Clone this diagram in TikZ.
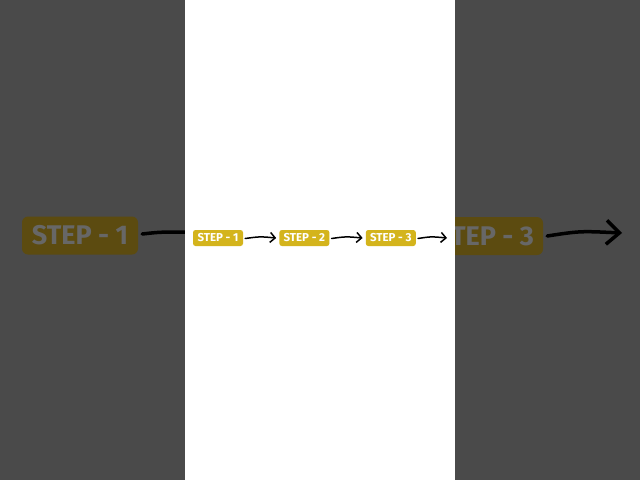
\documentclass[tikz,border=0pt]{standalone}
\usepackage{fontspec}
\setmainfont{Fira Sans}
\usetikzlibrary{arrows.meta,positioning}

\definecolor{darkbg}{HTML}{4A4A4A}
\definecolor{bigyellow}{HTML}{5C4B10}
\definecolor{biggray}{HTML}{676767}
\definecolor{stepyellow}{HTML}{D4B41C}

\tikzset{
    stepbig/.style={fill=bigyellow, text=biggray, rounded corners=6pt, minimum width=116pt, minimum height=38pt, inner sep=0pt, font=\fontsize{27}{27}\selectfont\bfseries},
    stepsmall/.style={fill=stepyellow, text=white, rounded corners=2.5pt, minimum width=50pt, minimum height=16pt, inner sep=0pt, font=\fontsize{11.5}{11.5}\selectfont\bfseries},
    flow/.style={-{Straight Barb[length=5pt,width=10pt]}, line width=1.5pt, line cap=round},
    bigflow/.style={-{Straight Barb[length=13pt,width=24pt]}, line width=3.5pt, line cap=round},
}

\begin{document}
\begin{tikzpicture}[x=1pt, y=-1pt]
    \fill[darkbg] (0,0) rectangle (640,480);
    
    % blown up copy behind
    \node[stepbig] (big1) at (80,235.5) {STEP - 1};
    \node[stepbig] (big3) at (485,236) {STEP - 3};
    \coordinate (bigend) at (622,233);
    \coordinate (bigcut) at (190,232);
    
    \draw[line width=3.5pt, line cap=round] ([xshift=4pt,yshift=1.5pt]big1.east) .. controls (160,232) .. (bigcut);
    \draw[bigflow] ([xshift=4pt]big3.east) .. controls (580,231) .. (bigend);
    
    \fill[white] (185,0) rectangle (455,480);
    
    \node[stepsmall] (s1) at (218,238) {STEP - 1};
    \node[stepsmall, right=36pt of s1] (s2) {STEP - 2};
    \node[stepsmall, right=36pt of s2] (s3) {STEP - 3};
    \coordinate (send) at (447,238);
    
    \draw[flow] ([xshift=2pt,yshift=-0.5pt]s1.east) .. controls (260,236.5) .. ([xshift=-3pt]s2.west);
    \draw[flow] ([xshift=2pt,yshift=-0.5pt]s2.east) .. controls (346,236.5) .. ([xshift=-3pt]s3.west);
    \draw[flow] ([xshift=2pt,yshift=-0.5pt]s3.east) .. controls (431,236.5) .. (send);
\end{tikzpicture}
\end{document}
